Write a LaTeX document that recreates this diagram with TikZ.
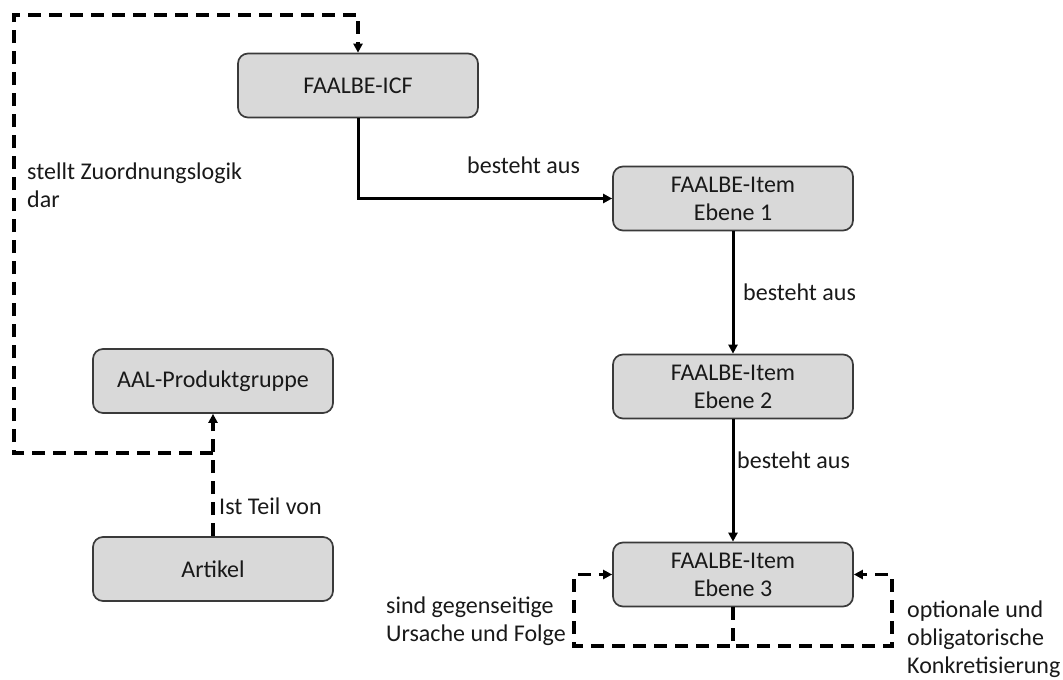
\documentclass[tikz,border=0pt]{standalone}
\usepackage{fontspec}
\setmainfont{Carlito}
\usetikzlibrary{arrows.meta}
\definecolor{boxfill}{HTML}{D9D9D9}
\definecolor{boxline}{HTML}{3A3A3A}
\begin{document}
\begin{tikzpicture}[x=1pt,y=-1pt,
  every node/.style={font=\fontsize{24}{28}\selectfont, text=black!90},
  item/.style={draw=boxline, line width=1.7pt, fill=boxfill, rounded corners=10pt,
    minimum width=240pt, minimum height=64pt, align=center, inner sep=0pt},
  lbl/.style={inner sep=0pt, align=left},
  solidlink/.style={line width=3pt, -{Triangle[length=9pt,width=9pt]}},
  dashlink/.style={line width=3.3pt, dash pattern=on 13pt off 8pt},
  dasharrow/.style={dashlink, -{Triangle[length=9pt,width=9pt]}}
]
\useasboundingbox (0,0) rectangle (1063,680);

% boxes
\node[item] (icf) at (358,85.5) {FAALBE-ICF};
\node[item] (e1)  at (733,198.5) {FAALBE-Item\\Ebene 1};
\node[item] (e2)  at (733,386.5) {FAALBE-Item\\Ebene 2};
\node[item] (e3)  at (733,574.5) {FAALBE-Item\\Ebene 3};
\node[item] (aal) at (213,381) {AAL-Produktgruppe};
\node[item] (art) at (213,569) {Artikel};

% "besteht aus" hierarchy
\draw[solidlink] (icf.south) |- (e1.west);
\draw[solidlink] (e1.south) -- (e2.north);
\draw[solidlink] (e2.south) -- (e3.north);
\node[lbl, anchor=west] (l1) at (467,165) {besteht aus};
\node[lbl, anchor=west] (l2) at (743,292) {besteht aus};
\node[lbl, anchor=west] (l3) at (737,460) {besteht aus};

% Artikel -> Produktgruppe
\draw[dasharrow] (art.north) -- (aal.south);
\node[lbl, anchor=west] (l4) at (219,506) {Ist Teil von};

% Zuordnungslogik back to ICF
\coordinate (j)  at (213,453);
\coordinate (bl) at (14,453);
\coordinate (tl) at (14,15);
\coordinate (tr) at (358,15);
\draw[dasharrow] (j) -- (bl) -- (tl) -- (tr) -- (icf.north);
\node[lbl, anchor=west] (l5) at (27,185) {stellt Zuordnungslogik\\dar};

% loops on level 3
\coordinate (lb) at (574,646);
\coordinate (rb) at (892,646);
\draw[dasharrow] (e3.south) |- (lb) |- (e3.west);
\draw[dasharrow] (e3.south) |- (rb) |- (e3.east);
\node[lbl, anchor=west] (l6) at (386,621) {sind gegenseitige\\Ursache und Folge};
\node[lbl, anchor=west] (l7) at (907,639) {optionale und\\obligatorische\\Konkretisierung};
\end{tikzpicture}
\end{document}
